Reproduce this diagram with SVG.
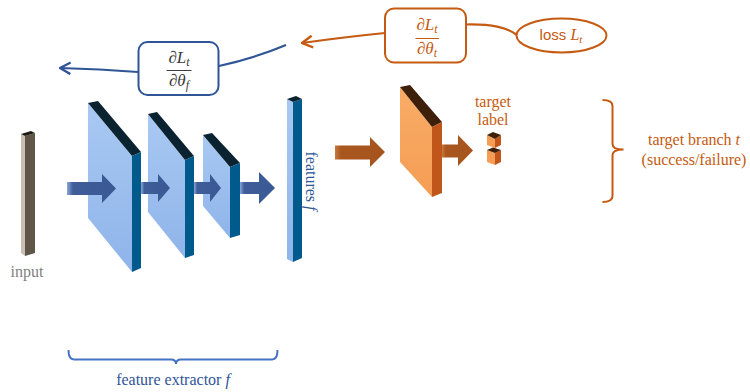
<svg xmlns="http://www.w3.org/2000/svg" width="750" height="392" viewBox="0 0 750 392">
  <defs>
    <linearGradient id="blueFace" x1="0" y1="0" x2="0" y2="1">
      <stop offset="0" stop-color="#a9c9f2"/>
      <stop offset="1" stop-color="#8fb4ea"/>
    </linearGradient>
    <linearGradient id="orangeFace" x1="0" y1="0" x2="0" y2="1">
      <stop offset="0" stop-color="#f9ac66"/>
      <stop offset="1" stop-color="#f59d55"/>
    </linearGradient>
    <linearGradient id="blueArrow" x1="0" y1="0" x2="1" y2="0">
      <stop offset="0" stop-color="#8aa6da"/>
      <stop offset="0.12" stop-color="#3f5d98"/>
      <stop offset="1" stop-color="#3a5893"/>
    </linearGradient>
    <linearGradient id="orangeArrow" x1="0" y1="0" x2="1" y2="0">
      <stop offset="0" stop-color="#c77a3e"/>
      <stop offset="0.12" stop-color="#a9571f"/>
      <stop offset="1" stop-color="#a5541d"/>
    </linearGradient>
    <marker id="chevBlue" markerUnits="userSpaceOnUse" markerWidth="14" markerHeight="14" viewBox="0 0 12 12" refX="11" refY="6" orient="auto">
      <path d="M2,1 L11,6 L2,11" fill="none" stroke="#2f5597" stroke-width="2"/>
    </marker>
    <marker id="chevOrange" markerUnits="userSpaceOnUse" markerWidth="14" markerHeight="14" viewBox="0 0 12 12" refX="11" refY="6" orient="auto">
      <path d="M2,1 L11,6 L2,11" fill="none" stroke="#c55a11" stroke-width="2"/>
    </marker>
  </defs>
  <style>
    .lbl { font-family: "Liberation Serif", "DejaVu Serif", serif; font-size: 16px; }
    .math { font-family: "Liberation Serif", "DejaVu Serif", serif; font-size: 17px; }
    .it { font-style: italic; }
    .blue { fill: #2f5597; }
    .orange { fill: #c55a11; }
    .gray { fill: #7f7f7f; }
    .bface { fill: url(#blueFace); }
    .bside { fill: #005a8c; }
    .btop { fill: #0b2230; }
    .oface { fill: url(#orangeFace); }
    .oside { fill: #c0561a; }
    .otop { fill: #3d1f0a; }
    .barrow { fill: url(#blueArrow); }
    .oarrow { fill: url(#orangeArrow); }
    .box { fill: #ffffff; stroke-width: 2; }
    .conn { fill: none; stroke-width: 2.2; }
  </style>

  <!-- input vector -->
  <g id="input">
    <polygon points="21,134 25,136 25,256 21,253" fill="#c9bfb2"/>
    <polygon points="25,136 35,133 35,253 25,256" fill="#5f5549"/>
    <polygon points="21,134 31,131 35,133 25,136" fill="#1e1a16"/>
    <text class="lbl gray" x="27" y="277" text-anchor="middle">input</text>
  </g>

  <!-- convolution layers of the feature extractor -->
  <g id="layer1">
    <polygon class="bface" points="88,103 132,156 132,272 88,218"/>
    <polygon class="btop" points="88,103 98,101 141,152 132,156"/>
    <polygon class="bside" points="132,156 141,152 141,268 132,272"/>
  </g>
  <g id="layer2">
    <polygon class="bface" points="148,114 185,160 185,258 148,212"/>
    <polygon class="btop" points="148,114 157,112 194,156 185,160"/>
    <polygon class="bside" points="185,160 194,156 194,255 185,258"/>
  </g>
  <g id="layer3">
    <polygon class="bface" points="203,135 230,167 230,238 203,206"/>
    <polygon class="btop" points="203,135 212,133 240,163 230,167"/>
    <polygon class="bside" points="230,167 240,163 240,235 230,238"/>
  </g>

  <!-- feature vector -->
  <g id="features">
    <polygon class="bface" points="287,99 293,102 293,262 287,259"/>
    <polygon class="bside" points="293,102 302,99 302,258 293,262"/>
    <polygon class="btop" points="287,99 296,96 302,99 293,102"/>
    <text class="lbl blue" transform="translate(306,181) rotate(90)" text-anchor="middle">features <tspan class="it">f</tspan></text>
  </g>

  <!-- target branch layer -->
  <g id="target-layer">
    <polygon class="oface" points="400,87 432,127 432,197 400,162"/>
    <polygon class="otop" points="400,87 410,85 442,122 432,127"/>
    <polygon class="oside" points="432,127 442,122 442,193 432,197"/>
  </g>

  <!-- target label output -->
  <g id="target-label">
    <polygon points="487,135 495,139 495,148 487,145" fill="#f59d55"/>
    <polygon points="495,139 501,135 501,145 495,148" fill="#c0561a"/>
    <polygon points="487,135 493,132 501,135 495,139" fill="#3d1f0a"/>
    <polygon points="487,150 495,153 495,165 487,162" fill="#f59d55"/>
    <polygon points="495,153 501,150 501,162 495,165" fill="#c0561a"/>
    <polygon points="487,150 493,147.5 501,150 495,153" fill="#3d1f0a"/>
    <text class="lbl orange" x="493" y="107" text-anchor="middle">target</text>
    <text class="lbl orange" x="493" y="125" text-anchor="middle">label</text>
  </g>

  <!-- gradient boxes and loss -->
  <g id="grad-f">
    <rect class="box" x="138.5" y="42" width="80" height="53" rx="9" stroke="#2f5597"/>
    <text class="math" x="179" y="63" text-anchor="middle" fill="#3a3a3a">∂<tspan class="it">L</tspan><tspan class="it" font-size="12" dy="3">t</tspan></text>
    <line x1="166.5" y1="70.5" x2="191.5" y2="70.5" stroke="#3a3a3a" stroke-width="1"/>
    <text class="math" x="179" y="86" text-anchor="middle" fill="#3a3a3a">∂<tspan class="it">θ</tspan><tspan class="it" font-size="12" dy="3">f</tspan></text>
  </g>
  <g id="grad-t">
    <rect class="box" x="385" y="8.5" width="81" height="54" rx="9" stroke="#c55a11"/>
    <text class="math orange" x="427" y="30" text-anchor="middle">∂<tspan class="it">L</tspan><tspan class="it" font-size="12" dy="3">t</tspan></text>
    <line x1="415.5" y1="38.5" x2="439" y2="38.5" stroke="#c55a11" stroke-width="1"/>
    <text class="math orange" x="427" y="54" text-anchor="middle">∂<tspan class="it">θ</tspan><tspan class="it" font-size="12" dy="3">t</tspan></text>
  </g>
  <g id="loss">
    <ellipse cx="561.5" cy="35.5" rx="45" ry="17" fill="#ffffff" stroke="#c55a11" stroke-width="2"/>
    <text x="561" y="40" text-anchor="middle" class="orange" font-family="'Liberation Sans', Arial, sans-serif" font-size="15">loss <tspan font-family="'Liberation Serif', serif" font-style="italic" font-size="16">L</tspan><tspan font-family="'Liberation Serif', serif" font-style="italic" font-size="11" dy="3">t</tspan></text>
  </g>

  <!-- braces and branch labels -->
  <g id="extractor-brace">
    <path d="M68.5,350 Q68.5,359.5 74,359.5 L171,359.5 Q176,359.5 176,364 Q176,359.5 181,359.5 L272,359.5 Q277.5,359.5 277.5,350" fill="none" stroke="#4472c4" stroke-width="2"/>
    <text class="lbl blue" x="173" y="385" text-anchor="middle">feature extractor <tspan class="it">f</tspan></text>
  </g>
  <g id="branch-brace">
    <path d="M602.5,100 Q612.5,100 612.5,106 L612.5,144 Q612.5,149.5 623.5,149.5 Q612.5,149.5 612.5,155 L612.5,196 Q612.5,202 602.5,202" fill="none" stroke="#c55a11" stroke-width="2"/>
    <text class="lbl orange" x="694" y="145" text-anchor="middle">target branch <tspan class="it">t</tspan></text>
    <text class="lbl orange" x="694" y="165" text-anchor="middle">(success/failure)</text>
  </g>

  <!-- connectors -->
  <g id="connectors">
    <!-- forward flow -->
    <polygon class="barrow" points="67,182 102,182 102,174 116,188.5 102,203 102,195 67,195"/>
    <polygon class="barrow" points="141,182 158,182 158,174 170,188 158,202 158,194 141,194"/>
    <polygon class="barrow" points="194,182 210,182 210,174 221,188 210,202 210,194 194,194"/>
    <polygon class="barrow" points="240,182 259,182 259,172 275,188 259,204 259,194 240,194"/>
    <polygon class="oarrow" points="335,145.5 370,145.5 370,137 385,152 370,167 370,159.5 335,159.5"/>
    <polygon class="oarrow" points="442,144.5 458,144.5 458,135 473,150.5 458,166 458,157.5 442,157.5"/>
    <!-- backward gradients -->
    <path class="conn" d="M466,24.5 C492,24 506,27 517,35" stroke="#c55a11"/>
    <path class="conn" d="M385,33 Q345,37 302,43" stroke="#c55a11" marker-end="url(#chevOrange)"/>
    <path class="conn" d="M286,45 Q255,58 219,66" stroke="#2f5597"/>
    <path class="conn" d="M138,72 Q100,69 60,68" stroke="#2f5597" marker-end="url(#chevBlue)"/>
  </g>
</svg>
